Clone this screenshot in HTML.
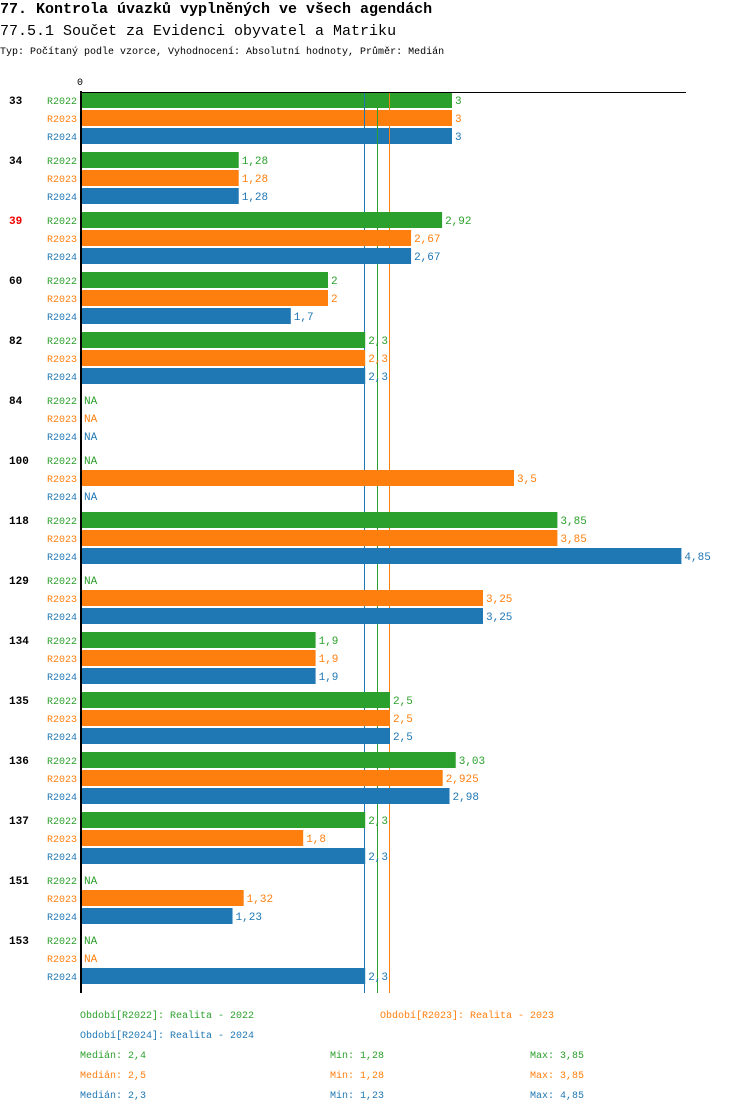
<!DOCTYPE html>
<html><head><meta charset="utf-8"><style>
body{margin:0;background:#fff;width:750px;height:1112px;overflow:hidden;font-family:"Liberation Mono",monospace}
svg{position:absolute;left:0;top:0}
</style></head><body>
<svg id="chart" width="750" height="1112" xmlns="http://www.w3.org/2000/svg" font-family="Liberation Mono, DejaVu Sans Mono, monospace">
<text x="0" y="13" font-size="15" font-weight="bold">77. Kontrola úvazků vyplněných ve všech agendách</text>
<text x="0" y="35" font-size="15">77.5.1 Součet za Evidenci obyvatel a Matriku</text>
<text x="0" y="54" font-size="10">Typ: Počítaný podle vzorce, Vyhodnocení: Absolutní hodnoty, Průměr: Medián</text>
<text x="80" y="85" font-size="10" text-anchor="middle">0</text>
<g id="bars"></g>
<line x1="80" y1="92.5" x2="686" y2="92.5" stroke="#000" stroke-width="1"/>
<line x1="81" y1="91" x2="81" y2="993" stroke="#000" stroke-width="2"/>
<g id="legend" font-size="10"></g>
</svg>
<script>
const groups = ["33","34","39","60","82","84","100","118","129","134","135","136","137","151","153"];
const series = ["R2022","R2023","R2024"];
const r2022 = [3,1.28,2.92,2,2.3,null,null,3.85,null,1.9,2.5,3.03,2.3,null,null];
const r2023 = [3,1.28,2.67,2,2.3,null,3.5,3.85,3.25,1.9,2.5,2.925,1.8,1.32,null];
const r2024 = [3,1.28,2.67,1.7,2.3,null,null,4.85,3.25,1.9,2.5,2.98,2.3,1.23,2.3];
const medians = [2.4,2.5,2.3];
const mins = ["1,28","1,28","1,23"];
const maxs = ["3,85","3,85","4,85"];
const legendNames = ["Období[R2022]: Realita - 2022","Období[R2023]: Realita - 2023","Období[R2024]: Realita - 2024"];
const colors = ["#2ca02c","#ff7f0e","#1f77b4"];
const data = [r2022,r2023,r2024];
const NS="http://www.w3.org/2000/svg";
const x = v => 80 + v*124;
const yc = (g,s) => 100 + g*60 + s*18;
const fmt = v => String(v).replace('.',',');
function mk(tag, attrs, parent){const e=document.createElementNS(NS,tag);for(const k in attrs)e.setAttribute(k,attrs[k]);parent.appendChild(e);return e;}
const gBars=document.getElementById('bars');
function drawMedians(){
  [2,0,1].forEach(s=>{
    const lx=Math.round(x(medians[s]))-0.5;
    const l=mk('line',{x1:lx,x2:lx,y1:92,y2:993,stroke:colors[s],'stroke-width':1},gBars);
    
    
  });
}
groups.forEach((g,gi)=>{
  const gl=mk('text',{x:9,y:yc(gi,0)+4,'font-size':11,'font-weight':'bold',fill:g==="39"?"#e00":"#000"},gBars);
  gl.textContent=g;
  
  
  series.forEach((s,si)=>{
    const y=yc(gi,si), v=data[si][gi];
    const sl=mk('text',{x:77,y:y+4,'font-size':10,fill:colors[si],'text-anchor':'end'},gBars);
    sl.textContent=s;
    
    
    if(v!==null){
      const r=mk('rect',{x:81,y:y-8,width:x(v)-81,height:16,fill:colors[si]},gBars);
      
      
    }
    const t=mk('text',{x:(v===null?x(0)+1:x(v))+3,y:y+4,'font-size':11,fill:colors[si]},gBars);
    t.textContent=v===null?"NA":fmt(v);
    
    
  });
  if(gi===0) drawMedians();
});
const lg=document.getElementById('legend');
[[80,1018,0],[380,1018,1],[80,1038,2]].forEach(([lx,ly,s])=>{
  const t=mk('text',{x:lx,y:ly,fill:colors[s]},lg);
  t.textContent=legendNames[s];
  
  
});
series.forEach((s,si)=>{
  const y=1058+si*20;
  [[80,"Medián: "+fmt(medians[si])],[330,"Min: "+mins[si]],[530,"Max: "+maxs[si]]].forEach(([lx,txt])=>{
    const t=mk('text',{x:lx,y:y,fill:colors[si]},lg);
    t.textContent=txt;
    
    
  });
});
</script>
</body></html>
